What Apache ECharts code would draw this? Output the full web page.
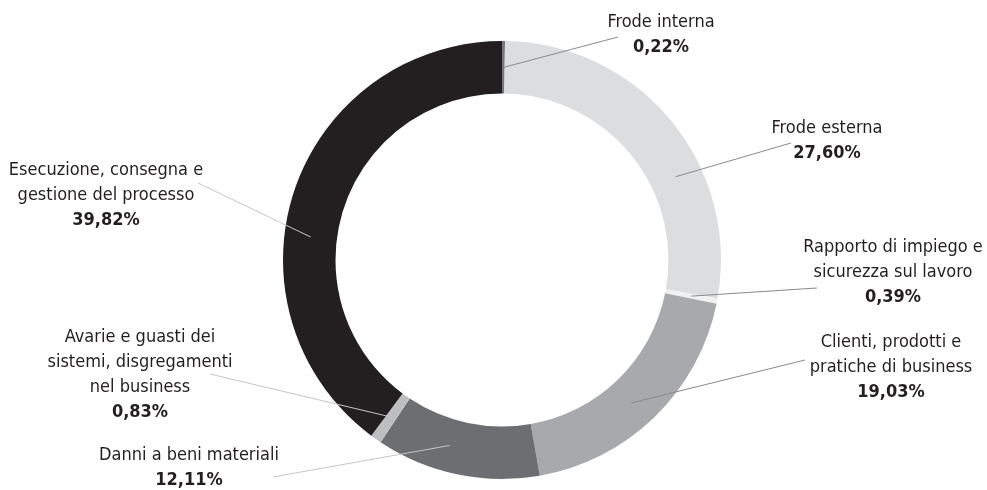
<!DOCTYPE html>
<html>
<head>
<meta charset="utf-8">
<script src="https://cdn.jsdelivr.net/npm/echarts@6/dist/echarts.min.js"></script>
<style>
  html, body { margin: 0; padding: 0; background: #ffffff; }
  #chart { width: 987px; height: 490px; }
</style>
</head>
<body>
<div id="chart"></div>
<script>
// Categories of operational-loss events, clockwise from 12 o'clock
const categories = [
  'Frode interna',
  'Frode esterna',
  'Rapporto di impiego e\nsicurezza sul lavoro',
  'Clienti, prodotti e\npratiche di business',
  'Danni a beni materiali',
  'Avarie e guasti dei\nsistemi, disgregamenti\nnel business',
  'Esecuzione, consegna e\ngestione del processo'
];
// Share of each category (%)
const shares = [0.22, 27.60, 0.39, 19.03, 12.11, 0.83, 39.82];

const sliceColors = ['#77787b', '#dcdddf', '#f1f1f2', '#a7a9ac', '#6d6e71', '#bcbec0', '#231f20'];
// leader lines: darker over light slices, lighter over dark ones
const leaderColors = ['#8a8a8a', '#8a8a8a', '#8a8a8a', '#8a8a8a', '#c6c6c6', '#c6c6c6', '#c6c6c6'];

// Label blocks: centre x, top y, end of the leader line,
// and where along its slice (0..1) the leader line starts
const labelSpots = [
  { x: 661, y: 10,  end: [618, 37],  at: 0.75 },
  { x: 827, y: 116, end: [791, 143], at: 0.64 },
  { x: 893, y: 235, end: [817, 288], at: 0.46 },
  { x: 891, y: 330, end: [805, 360], at: 0.53 },
  { x: 189, y: 443, end: [273, 477], at: 0.59 },
  { x: 140, y: 325, end: [210, 374], at: 0.65 },
  { x: 106, y: 158, end: [198, 183], at: 0.42 }
];

const CX = 502, CY = 260, R_IN = 166.5, R_OUT = 219;
const FONT = "'DejaVu Sans Condensed', 'Liberation Sans Narrow', sans-serif";
const TEXT = '#231f20';

const total = shares.reduce((a, b) => a + b, 0);
const startOf = [];
shares.reduce((acc, v, i) => { startOf[i] = acc; return acc + v; }, 0);

function fmtPct(v) {
  return v.toFixed(2).replace('.', ',') + '%';
}

const ring = {
  type: 'pie',
  center: [CX, CY],
  radius: [R_IN, R_OUT],
  startAngle: 90,
  clockwise: true,
  avoidLabelOverlap: false,
  emphasis: { disabled: true },
  silent: true
};

const chart = echarts.init(document.getElementById('chart'), null, { renderer: 'canvas' });

chart.setOption({
  animation: false,
  backgroundColor: '#ffffff',
  series: [
    // the coloured ring
    Object.assign({}, ring, {
      z: 2,
      itemStyle: { borderWidth: 0 },
      label: { show: false },
      labelLine: { show: false },
      data: categories.map((name, i) => ({
        name: name,
        value: shares[i],
        itemStyle: { color: sliceColors[i] }
      }))
    }),
    // labels and leader lines, drawn on top of the ring
    Object.assign({}, ring, {
      z: 5,
      itemStyle: { color: 'rgba(0,0,0,0)', borderWidth: 0 },
      data: categories.map((name, i) => ({
        name: name,
        value: shares[i],
        labelLine: { lineStyle: { color: leaderColors[i] } }
      })),
      label: {
        show: true,
        position: 'outside',
        formatter: p => p.name.split('\n').map(l => '{n|' + l + '}').join('\n') + '\n{v|' + fmtPct(p.value) + '}',
        rich: {
          n: { fontFamily: FONT, fontSize: 18, color: TEXT, lineHeight: 25, align: 'center' },
          v: { fontFamily: FONT, fontSize: 18, fontWeight: 'bold', color: TEXT, lineHeight: 25, align: 'center' }
        }
      },
      labelLine: {
        show: true,
        showAbove: true,
        lineStyle: { color: '#8a8a8a', width: 1 }
      },
      labelLayout: params => {
        const i = params.dataIndex;
        const s = labelSpots[i];
        const deg = (startOf[i] + shares[i] * s.at) / total * 360;
        const rad = deg * Math.PI / 180;
        const r = (R_IN + R_OUT) / 2;
        const a = [CX + r * Math.sin(rad), CY - r * Math.cos(rad)];
        return {
          x: s.x,
          y: s.y,
          align: 'center',
          verticalAlign: 'top',
          hideOverlap: false,
          moveOverlap: false,
          labelLinePoints: [a, s.end, s.end]
        };
      }
    })
  ]
});
</script>
</body>
</html>
